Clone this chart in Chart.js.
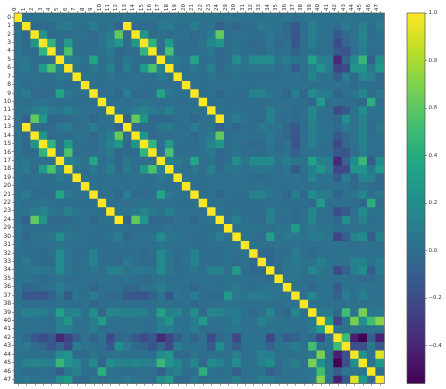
<!DOCTYPE html>
<html><head><meta charset="utf-8">
<style>
html,body{margin:0;padding:0;background:#fff;width:446px;height:389px;overflow:hidden}
canvas{position:absolute;top:0;filter:blur(0.4px)}
#hm{left:0}
#cb{left:400px}
</style>
<script src="https://cdn.jsdelivr.net/npm/chart.js@4"></script>
</head><body>
<div style="position:absolute;left:0;top:0;width:390px;height:389px"><canvas id="hm" width="390" height="389"></canvas></div>
<div style="position:absolute;left:400px;top:0;width:46px;height:389px"><canvas id="cb" style="left:0" width="46" height="389"></canvas></div>
<script>
const featureLabels=["0","1","2","3","4","5","6","7","8","9","10","11","12","13","14","15","16","17","18","19","20","21","22","23","24","29","30","31","32","33","34","35","36","37","38","39","40","41","42","43","44","45","46","47"];
const colorbarTicks=[-0.4,-0.2,0,0.2,0.4,0.6,0.8,1];
const colorMin=-0.56,colorMax=1;
const viridisStops=["#440154","#482475","#414487","#355f8d","#2a788e","#21918c","#22a884","#44bf70","#7ad151","#bddf26","#fde725"];
// upper triangle: each row starts at its own diagonal
const upperRows=[
[1,.03,.03,.03,.03,.04,.03,.03,.03,.03,.03,.03,.03,.03,.03,.03,.03,.04,.03,.03,.03,.03,.03,.03,.03,.05,.03,.03,.02,.02,.03,.03,.03,.02,.03,.03,.03,.03,.03,.03,.03,.03,.03,.03],
[1,-.02,-.02,-.02,.06,.08,.01,.01,.10,0,.04,-.08,1,-.02,-.02,-.02,.06,.08,.01,.01,.10,0,.04,-.08,0,-.05,0,0,.07,.04,.04,-.05,-.12,0,.12,.02,.02,-.02,.07,.02,.12,0,.07],
[1,.25,-.02,0,-.01,.02,.02,-.02,.02,.08,.62,-.02,1,.25,-.02,0,-.01,.02,.02,-.02,.02,.08,.62,.01,.02,.02,0,0,.06,0,-.03,-.15,0,.12,.03,.02,-.12,-.02,.02,.14,0,.03],
[1,.45,0,.28,.01,0,-.02,.04,.14,.25,-.02,.25,1,.45,0,.28,.01,0,-.02,.04,.14,.25,.01,.03,0,-.03,-.02,.06,-.02,.02,-.15,0,.1,.02,0,-.2,-.05,.02,.12,.02,.02],
[1,0,.55,.01,0,-.01,.02,.07,-.04,-.02,-.02,.45,1,0,.55,.01,0,-.01,.02,.07,-.04,.01,.03,0,.01,-.02,.04,0,.02,-.08,0,.03,0,0,-.12,-.15,0,.1,0,.01],
[1,.12,.07,.02,.35,0,.04,-.03,.06,0,0,0,1,.12,.07,.02,.35,0,.04,-.03,0,.2,.03,.18,.18,.18,.03,.1,.04,.03,.33,.12,.1,-.38,-.05,.18,.48,-.1,.2],
[1,.03,0,.06,.01,.12,-.03,.08,-.01,.28,.55,.12,1,.03,0,.06,.01,.12,-.03,.03,.05,.02,.05,.05,.05,0,.03,-.12,.02,.12,.25,.1,-.25,-.2,.25,.25,.06,.28],
[1,.02,.02,.01,.03,.01,.01,.02,.01,.01,.07,.03,1,.02,.02,.01,.03,.01,.01,.03,.01,0,-.02,.01,0,.02,.05,0,.14,.02,.03,-.1,.1,-.03,.15,.12,-.03],
[1,.02,.01,.02,.02,.01,.02,0,0,.02,0,.02,1,.02,.01,.02,.02,.02,.02,.02,.01,.02,.02,.02,.01,.01,.02,.02,.02,.02,.02,.02,-.02,.02,0,-.02],
[1,.01,.02,-.04,.10,-.02,-.02,-.01,.35,.06,.02,.02,1,.01,.02,-.04,.02,0,0,.13,.13,.05,.02,-.05,.1,-.03,.2,.08,.08,-.06,.02,.04,.16,.01,.06],
[1,.01,.02,0,.02,.04,.02,0,.01,.01,.01,.01,1,.01,.02,.01,0,0,.01,0,0,.02,0,0,0,-.03,.28,.01,.02,0,0,-.05,.42,0],
[1,.04,.04,.08,.14,.07,.04,.12,.03,.02,.02,.01,1,.04,.01,.03,0,0,0,.12,.02,.02,-.02,0,.15,.02,0,-.2,-.12,.02,.2,.03,.04],
[1,-.08,.62,.25,-.04,-.03,-.03,.01,.02,-.04,.02,.04,1,.02,.1,.02,0,-.02,.12,0,0,-.02,.02,.14,.02,0,-.03,.2,.02,.12,0,.02],
[1,-.02,-.02,-.02,.06,.08,.01,.01,.10,0,.04,-.08,0,-.05,0,0,.07,.04,.04,-.05,-.12,0,.12,.02,.02,-.02,.07,.02,.12,0,.07],
[1,.25,-.02,0,-.01,.02,.02,-.02,.02,.08,.62,.01,.02,.02,0,0,.06,0,-.03,-.15,0,.12,.03,.02,-.12,-.02,.02,.14,0,.03],
[1,.45,0,.28,.01,0,-.02,.04,.14,.25,.01,.03,0,-.03,-.02,.06,-.02,.02,-.15,0,.1,.02,0,-.2,-.05,.02,.12,.02,.02],
[1,0,.55,.01,0,-.01,.02,.07,-.04,.01,.03,0,.01,-.02,.04,0,.02,-.08,0,.03,0,0,-.12,-.15,0,.1,0,.01],
[1,.12,.07,.02,.35,0,.04,-.03,0,.2,.03,.18,.18,.18,.03,.1,.04,.03,.33,.12,.1,-.38,-.05,.18,.48,-.1,.2],
[1,.03,0,.06,.01,.12,-.03,.03,.05,.02,.05,.05,.05,0,.03,-.12,.02,.12,.25,.1,-.25,-.2,.25,.25,.06,.28],
[1,.02,.02,.01,.03,.01,.01,.03,.01,0,-.02,.01,0,.02,.05,0,.14,.02,.03,-.1,.1,-.03,.15,.12,-.03],
[1,.02,.01,.02,.02,.02,.02,.02,.01,.02,.02,.02,.01,.01,.02,.02,.02,.02,.02,.02,-.02,.02,0,-.02],
[1,.01,.02,-.04,.02,0,0,.13,.13,.05,.02,-.05,.1,-.03,.2,.08,.08,-.06,.02,.04,.16,.01,.06],
[1,.01,.02,.01,0,0,.01,0,0,.02,0,0,0,-.03,.28,.01,.02,0,0,-.05,.42,0],
[1,.04,.01,.03,0,0,0,.12,.02,.02,-.02,0,.15,.02,0,-.2,-.12,.02,.2,.03,.04],
[1,.02,.1,.02,0,-.02,.12,0,0,-.02,.02,.14,.02,0,-.03,.2,.02,.12,0,.02],
[1,.02,.03,.03,.03,0,.04,.04,.28,.03,.06,.03,.03,0,.02,.01,.03,.03,.02],
[1,.03,0,-.02,.3,.03,.07,.05,.03,.1,.08,.05,-.25,-.1,.12,.2,-.1,.12],
[1,.03,.02,0,.03,0,.03,0,.02,.02,.02,.02,.02,0,.02,.02,.01],
[1,-.03,-.04,0,0,.08,.01,-.03,.02,.02,.03,.03,.03,.02,.03,.02],
[1,-.03,0,.03,.08,.02,.02,.12,.03,.02,.02,.12,.12,.02,.1],
[1,-.02,.05,.05,.02,.15,.06,.03,-.22,-.08,.1,.2,-.1,.09],
[1,.03,.03,0,0,.03,.02,0,.03,.01,-.02,-.02,.03],
[1,.03,.02,-.03,.02,.03,-.1,.03,.02,.05,.03,.02],
[1,.02,.15,.03,.02,-.08,.1,.02,.12,.02,.03],
[1,.03,.02,.02,.02,.02,.02,.02,.03,.02],
[1,.07,.08,-.03,.52,.03,.68,.05,.06],
[1,.28,-.25,.04,.68,.22,.52,.72],
[1,.03,.04,.04,.03,.04,.03],
[1,.5,-.42,-.56,-.1,-.42],
[1,-.18,-.18,.06,-.13],
[1,.22,.03,.92],
[1,.03,.28],
[1,0],
[1]
];
function cellValue(r,c){return r<=c?upperRows[r][c-r]:upperRows[c][r-c];}
function hexRgb(h){return [1,3,5].map(i=>parseInt(h.substr(i,2),16));}
function viridis(v){
  let t=Math.min(1,Math.max(0,(v-colorMin)/(colorMax-colorMin)))*(viridisStops.length-1);
  const i=Math.min(viridisStops.length-2,Math.floor(t)),f=t-i;
  const a=hexRgb(viridisStops[i]),b=hexRgb(viridisStops[i+1]);
  return 'rgb('+a.map((x,k)=>Math.round(x+(b[k]-x)*f)).join(',')+')';
}
const frame={id:'frame',afterDraw(c){const a=c.chartArea,x=c.ctx;x.save();x.strokeStyle='#555';x.lineWidth=0.7;x.strokeRect(a.left,a.top,a.right-a.left,a.bottom-a.top);x.restore();}};
const topFont={family:'"DejaVu Sans"',size:5.5};
const sideFont={family:'"DejaVu Sans"',size:6};
const heatSets=featureLabels.map((_,r)=>({
  data:featureLabels.map((lab,c)=>({x:lab,y:[r,r+1],v:cellValue(r,c)})),
  backgroundColor:ctx=>ctx.raw?viridis(ctx.raw.v):'#000',
  borderWidth:0,inflateAmount:0.5,barPercentage:1,categoryPercentage:1,grouped:false
}));
new Chart(document.getElementById('hm'),{
  type:'bar',
  data:{labels:featureLabels,datasets:heatSets},
  plugins:[frame],
  options:{
    responsive:false,animation:false,
    layout:{padding:{left:0,top:0,right:5.7,bottom:0}},
    plugins:{legend:{display:false},tooltip:{enabled:false}},
    scales:{
      x:{position:'top',offset:true,border:{display:false},
         grid:{offset:false,drawOnChartArea:false,tickLength:2,tickColor:'#555',tickWidth:0.6},
         ticks:{autoSkip:false,minRotation:90,maxRotation:90,padding:0,labelOffset:3.3,font:topFont,color:'#333'},
         afterFit:s=>{s.height=13;}},
      xb:{axis:'x',type:'category',position:'bottom',offset:true,border:{display:false},
         grid:{offset:false,drawOnChartArea:false,tickLength:2,tickColor:'#555',tickWidth:0.6},
         ticks:{autoSkip:false,maxRotation:0,padding:0,font:{size:1},callback:()=>''},
         afterFit:s=>{s.height=5.4;}},
      y:{type:'linear',reverse:true,min:0,max:featureLabels.length,border:{display:false},
         grid:{drawOnChartArea:false,tickLength:2,tickColor:'#555',tickWidth:0.6},
         afterBuildTicks:a=>{a.ticks=featureLabels.map((_,i)=>({value:i+0.5}));},
         ticks:{autoSkip:false,padding:1,font:sideFont,color:'#333',callback:v=>featureLabels[v-0.5]},
         afterFit:s=>{s.width=14.1;}}
    }
  }
});
new Chart(document.getElementById('cb'),{
  type:'bar',
  data:{labels:['r'],datasets:[{
    data:[[colorMin,colorMax]],
    backgroundColor:ctx=>{
      const a=ctx.chart.chartArea;if(!a)return '#000';
      const g=ctx.chart.ctx.createLinearGradient(0,a.bottom,0,a.top);
      viridisStops.forEach((s,i)=>g.addColorStop(i/(viridisStops.length-1),s));
      return g;
    },
    borderWidth:0,barPercentage:1,categoryPercentage:1
  }]},
  plugins:[frame],
  options:{
    responsive:false,animation:false,
    layout:{padding:{left:7,top:13,right:0,bottom:5.4}},
    plugins:{legend:{display:false},tooltip:{enabled:false}},
    scales:{
      x:{display:false},
      y:{position:'right',min:colorMin,max:colorMax,border:{display:false},
         grid:{drawOnChartArea:false,tickLength:2,tickColor:'#555',tickWidth:0.6},
         afterBuildTicks:a=>{a.ticks=colorbarTicks.map(v=>({value:v}));},
         ticks:{autoSkip:false,padding:1.5,font:{family:'"DejaVu Sans"',size:5.5},color:'#333',
                callback:v=>(v<0?'\u2212':'')+Math.abs(v).toFixed(1)},
         afterFit:s=>{s.width=21;}}
    }
  }
});
</script>
</body></html>
